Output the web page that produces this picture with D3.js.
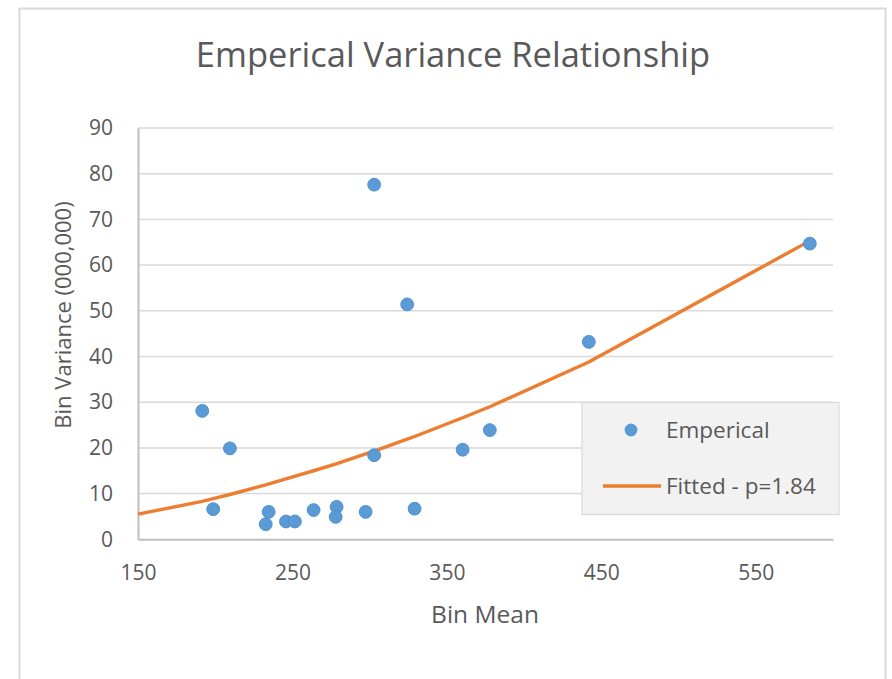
<!DOCTYPE html>
<html>
<head>
<meta charset="utf-8">
<script src="https://cdn.jsdelivr.net/npm/d3@7"></script>
<style>
  body { margin: 0; background: #fff; }
  text { font-family: "Open Sans", sans-serif; fill: #595959; }
</style>
</head>
<body>
<div id="chart"></div>
<script>
// empirical bins
const binMean = [191.6, 209.5, 198.7, 234.6, 232.7, 245.8, 251.6, 263.7, 278.6, 278.0,
                 297.4, 302.9, 302.9, 324.3, 329.1, 360.2, 377.8, 441.9, 585.0];
const binVar  = [28.1, 19.9, 6.6, 6.0, 3.3, 3.9, 3.9, 6.4, 7.1, 4.9,
                 6.0, 77.6, 18.4, 51.4, 6.7, 19.6, 23.9, 43.2, 64.7];

// fitted curve, p = 1.84
const fitMean = [150, 191.6, 198.7, 209.5, 232.7, 245.8, 263.7, 278.3, 297.4, 302.9,
                 324.3, 329.1, 360.2, 377.8, 441.9, 585.0];
const fitVar  = [5.5, 8.3, 8.9, 9.8, 11.9, 13.2, 15.0, 16.5, 18.7, 19.3,
                 21.9, 22.5, 26.6, 29.0, 38.8, 65.3];

const xTicks = [150, 250, 350, 450, 550];
const yTicks = [0, 10, 20, 30, 40, 50, 60, 70, 80, 90];

const width = 892;
const height = 679;

const svg = d3.select("#chart")
  .append("svg")
  .attr("width", width)
  .attr("height", height);

// chart frame
svg.append("rect")
  .attr("x", 19.5)
  .attr("y", 8.5)
  .attr("width", 866)
  .attr("height", 700)
  .attr("fill", "#fff")
  .attr("stroke", "#d9d9d9")
  .attr("stroke-width", 2);

const xScale = d3.scaleLinear()
  .domain([150, 600])
  .range([138, 833]);

const yScale = d3.scaleLinear()
  .domain([0, 90])
  .range([539.3, 128]);

// gridlines
svg.append("g")
  .selectAll("line")
  .data(yTicks.slice(1))
  .join("line")
  .attr("x1", xScale(150))
  .attr("x2", xScale(600))
  .attr("y1", d => yScale(d))
  .attr("y2", d => yScale(d))
  .attr("stroke", "#d9d9d9")
  .attr("stroke-width", 1.5);

// X axis
const xAxis = svg.append("g")
  .attr("transform", `translate(0,${yScale(0)})`)
  .call(d3.axisBottom(xScale).tickValues(xTicks).tickSize(0).tickPadding(26));
xAxis.select(".domain").attr("stroke", "#bfbfbf").attr("stroke-width", 2);
xAxis.selectAll("text").attr("font-size", 21).attr("fill", "#595959")
  .attr("font-family", "Open Sans");

// Y axis
const yAxis = svg.append("g")
  .attr("transform", `translate(${xScale(150)},0)`)
  .call(d3.axisLeft(yScale).tickValues(yTicks).tickSize(0).tickPadding(25));
yAxis.select(".domain").attr("stroke", "#bfbfbf").attr("stroke-width", 2);
yAxis.selectAll("text").attr("font-size", 21).attr("fill", "#595959")
  .attr("font-family", "Open Sans");

// fitted line
const fitted = fitMean.map((m, i) => ({ x: m, y: fitVar[i] }));
const line = d3.line()
  .x(d => xScale(d.x))
  .y(d => yScale(d.y));

svg.append("path")
  .datum(fitted)
  .attr("fill", "none")
  .attr("stroke", "#ed7d31")
  .attr("stroke-width", 3.4)
  .attr("stroke-linejoin", "round")
  .attr("d", line);

// empirical points
svg.append("g")
  .selectAll("circle")
  .data(binMean.map((m, i) => ({ x: m, y: binVar[i] })))
  .join("circle")
  .attr("cx", d => xScale(d.x))
  .attr("cy", d => yScale(d.y))
  .attr("r", 6.4)
  .attr("fill", "#5b9bd5")
  .attr("stroke", "#4f8fd0")
  .attr("stroke-width", 1);

// title
svg.append("text")
  .attr("x", 453)
  .attr("y", 67)
  .attr("text-anchor", "middle")
  .attr("font-size", 34.5)
  .text("Emperical Variance Relationship");

// X label
svg.append("text")
  .attr("x", 485)
  .attr("y", 623)
  .attr("text-anchor", "middle")
  .attr("font-size", 24.5)
  .text("Bin Mean");

// Y label
svg.append("text")
  .attr("transform", "rotate(-90)")
  .attr("x", -315)
  .attr("y", 71)
  .attr("text-anchor", "middle")
  .attr("font-size", 22)
  .text("Bin Variance (000,000)");

// legend
const legend = svg.append("g");
legend.append("rect")
  .attr("x", 582)
  .attr("y", 402.5)
  .attr("width", 257)
  .attr("height", 112)
  .attr("fill", "#f2f2f2")
  .attr("stroke", "#d9d9d9")
  .attr("stroke-width", 1.2);
legend.append("circle")
  .attr("cx", 631)
  .attr("cy", 430)
  .attr("r", 6.4)
  .attr("fill", "#5b9bd5");
legend.append("text")
  .attr("x", 666)
  .attr("y", 437.5)
  .attr("font-size", 22.5)
  .text("Emperical");
legend.append("line")
  .attr("x1", 603)
  .attr("x2", 661)
  .attr("y1", 486)
  .attr("y2", 486)
  .attr("stroke", "#ed7d31")
  .attr("stroke-width", 3.4);
legend.append("text")
  .attr("x", 666)
  .attr("y", 493.5)
  .attr("font-size", 22.5)
  .text("Fitted - p=1.84");
</script>
</body>
</html>
